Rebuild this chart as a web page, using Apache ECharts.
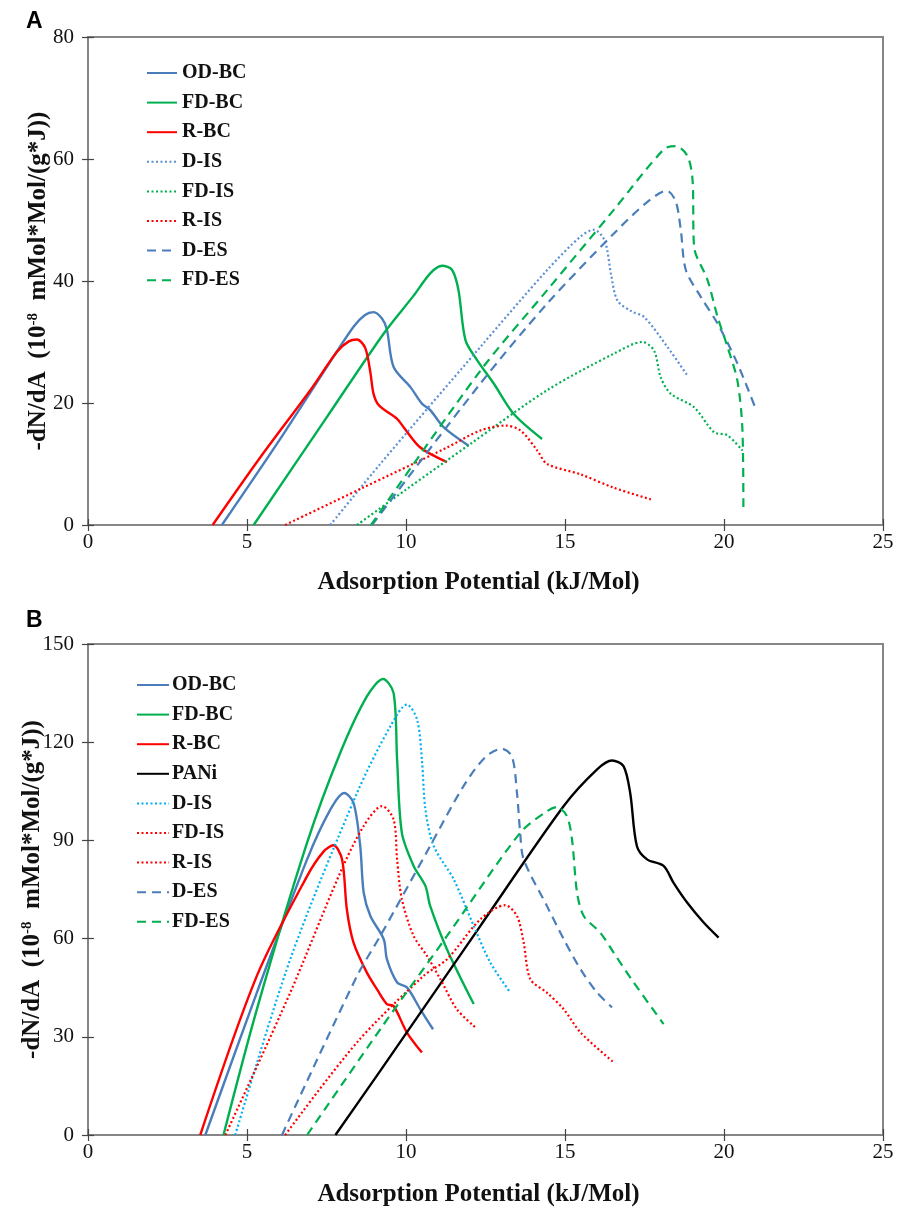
<!DOCTYPE html>
<html>
<head>
<meta charset="utf-8">
<script src="https://cdn.jsdelivr.net/npm/echarts@6/dist/echarts.min.js"></script>
<style>
html,body{margin:0;padding:0;background:#fff;}
#chart{width:897px;height:1208px;}
</style>
</head>
<body>
<div id="chart"></div>
<script>
// ---------- Data: panel A ----------
const xTicks = [0, 5, 10, 15, 20, 25];
const yTicksA = [0, 20, 40, 60, 80];
const yTicksB = [0, 30, 60, 90, 120, 150];

const A_OD_BC = [[4.21,0],[5.94,13.3],[7.51,25.9],[8.35,32.5],[8.7,34.4],[8.98,34.9],[9.25,33.8],[9.40,32.0],[9.61,25.9],[10.14,22.6],[10.5,19.9],[10.77,18.8],[11.19,16.0],[11.97,13.0]];
const A_FD_BC = [[5.21,0],[7.5,17.6],[9.30,31.4],[10.24,37.6],[10.77,41.3],[11.14,42.5],[11.45,41.8],[11.65,38.5],[11.87,30.3],[12.24,27.0],[12.76,23.2],[13.39,18.2],[14.28,14.1]];
const A_R_BC  = [[3.92,0],[5.42,11.1],[6.99,22.1],[7.83,28.4],[8.2,30.1],[8.46,30.4],[8.72,29.0],[8.88,25.0],[8.98,21.5],[9.15,19.6],[9.72,17.4],[9.93,16.0],[10.45,12.7],[11.29,10.3]];
const A_D_IS  = [[7.62,0],[9.19,10.0],[12.34,29.2],[14.44,41.8],[15.49,47.3],[15.91,48.4],[16.25,46.6],[16.45,41.0],[16.65,36.8],[17.1,35.0],[17.49,34.1],[18.22,29.2],[18.85,24.5]];
const A_FD_IS = [[8.46,0],[10.0,5.8],[12.0,13.2],[14.44,22.1],[16.54,28.1],[17.43,30.0],[17.80,28.6],[18.01,24.2],[18.33,21.5],[19.06,19.3],[19.69,15.2],[20.11,14.7],[20.58,12.2]];
const A_R_IS  = [[6.20,0],[8.56,5.9],[11.29,12.7],[12.34,15.5],[13.13,16.3],[13.6,15.5],[14.13,12.2],[14.44,10.0],[15.49,8.3],[16.54,6.1],[17.70,4.2]];
const A_D_ES  = [[8.93,0],[12.34,23.2],[14.44,36.3],[16.54,47.8],[17.6,53.0],[18.2,54.8],[18.48,53.1],[18.64,48.4],[18.80,41.8],[19.27,37.4],[19.80,33.0],[20.42,26.5],[21.0,19.0]];
const A_FD_ES = [[8.9,0],[12.34,25.3],[14.44,38.5],[16.54,51.7],[18.11,61.6],[18.48,62.1],[18.85,60.5],[19.01,56.6],[19.06,45.6],[19.48,40.2],[19.80,34.1],[20.11,29.2],[20.42,23.7],[20.58,15.5],[20.61,2.3]];

// ---------- Data: panel B ----------
const B_OD_BC = [[3.69,0],[5.31,43.5],[6.89,84.2],[7.62,99.4],[8.06,104.5],[8.35,101.5],[8.56,88.3],[8.67,74.0],[8.88,66.9],[9.30,59.8],[9.40,53.7],[9.72,46.6],[10.03,45.1],[10.45,38.4],[10.85,32.3]];
const B_FD_BC = [[4.26,0],[5.31,38.4],[6.89,89.3],[7.93,116.7],[8.77,134.0],[9.28,139.3],[9.61,135.0],[9.72,114.7],[9.87,92.3],[10.24,82.2],[10.61,76.1],[10.76,70.0],[11.29,56.7],[12.13,40.0]];
const B_R_BC  = [[3.53,0],[5.31,48.6],[6.89,79.1],[7.4,86.5],[7.72,88.5],[7.99,84.2],[8.14,68.9],[8.35,58.8],[8.77,49.6],[9.09,44.5],[9.40,40.0],[9.61,39.4],[10.03,31.3],[10.5,25.2]];
const B_PANi  = [[7.78,0],[9.19,19.6],[12.34,63.9],[14.96,100.5],[16.01,111.7],[16.48,114.4],[16.84,112.7],[17.05,104.5],[17.26,88.3],[17.58,84.2],[18.10,82.2],[18.41,77.1],[18.84,71.0],[19.36,64.9],[19.83,60.3]];
const B_D_IS  = [[4.63,0],[6.36,53.7],[8.46,104.5],[9.51,124.9],[10.03,131.5],[10.35,126.9],[10.50,114.7],[10.61,99.5],[10.87,88.3],[11.50,78.1],[12.13,63.9],[12.65,52.7],[13.28,43.5]];
const B_FD_IS = [[4.32,0],[6.36,43.5],[7.93,80.1],[8.67,94.4],[9.25,100.5],[9.61,96.4],[9.72,84.2],[9.87,72.0],[10.24,60.8],[10.66,54.7],[11.08,47.6],[11.60,38.4],[12.18,32.9]];
const B_R_IS  = [[6.20,0],[8.46,28.3],[10.55,48.6],[11.29,53.7],[12.34,65.9],[13.12,70.2],[13.49,66.9],[13.70,58.8],[13.91,47.6],[14.43,43.5],[14.96,38.4],[15.49,31.3],[16.53,22.2]];
const B_D_ES  = [[6.10,0],[8.46,48.6],[9.19,60.8],[10.76,88.3],[11.81,106.6],[12.5,115.5],[13.01,118.0],[13.33,115.7],[13.49,104.5],[13.59,92.3],[13.70,84.2],[14.43,70.0],[14.96,59.8],[15.49,50.6],[16.01,43.5],[16.48,39.0]];
const B_FD_ES = [[6.89,0],[9.19,32.3],[11.29,60.8],[13.59,92.3],[14.43,98.9],[14.75,100.2],[15.06,97.4],[15.22,90.3],[15.38,74.0],[15.59,66.9],[16.11,61.8],[16.53,55.7],[17.16,46.6],[18.10,33.9]];

const seriesNamesA = ['OD-BC','FD-BC','R-BC','D-IS','FD-IS','R-IS','D-ES','FD-ES'];
const seriesNamesB = ['OD-BC','FD-BC','R-BC','PANi','D-IS','FD-IS','R-IS','D-ES','FD-ES'];

const xTitle = 'Adsorption Potential (kJ/Mol)';
const yTitle = '-dN/dA  (10{sup|-8}  mMol*Mol/(g*J))';

// ---------- Styling ----------
const BLUE = '#4a7ebb', GREEN = '#00b050', RED = '#ff0000', CYAN = '#00b0f0', BLACK = '#000000';
const SERIF = '"Liberation Serif","Times New Roman",serif';
const AXISC = '#868686';
const SOLID = 'solid', DOT = [2, 2.5], DASH = [9, 6];

function mk(name, data, color, type, xi, yi, w) {
  return {
    name: name, type: 'line', data: data, xAxisIndex: xi, yAxisIndex: yi,
    symbol: 'none', smooth: 0.3, animation: false,
    lineStyle: { color: color, width: w || (type === SOLID ? 2.4 : 2.2), type: type },
    itemStyle: { color: color }
  };
}

const series = [
  mk('A:OD-BC', A_OD_BC, BLUE, SOLID, 0, 0),
  mk('A:FD-BC', A_FD_BC, GREEN, SOLID, 0, 0),
  mk('A:R-BC', A_R_BC, RED, SOLID, 0, 0),
  mk('A:D-IS', A_D_IS, '#5b8fd4', DOT, 0, 0),
  mk('A:FD-IS', A_FD_IS, GREEN, DOT, 0, 0),
  mk('A:R-IS', A_R_IS, RED, DOT, 0, 0),
  mk('A:D-ES', A_D_ES, BLUE, DASH, 0, 0),
  mk('A:FD-ES', A_FD_ES, GREEN, DASH, 0, 0),
  mk('B:OD-BC', B_OD_BC, BLUE, SOLID, 2, 2),
  mk('B:FD-BC', B_FD_BC, GREEN, SOLID, 2, 2),
  mk('B:R-BC', B_R_BC, RED, SOLID, 2, 2),
  mk('B:PANi', B_PANi, BLACK, SOLID, 2, 2),
  mk('B:D-IS', B_D_IS, CYAN, DOT, 2, 2),
  mk('B:FD-IS', B_FD_IS, RED, DOT, 2, 2),
  mk('B:R-IS', B_R_IS, RED, DOT, 2, 2),
  mk('B:D-ES', B_D_ES, BLUE, DASH, 2, 2),
  mk('B:FD-ES', B_FD_ES, GREEN, DASH, 2, 2)
];

function xAxisPair(gi) {
  const main = {
    type: 'value', gridIndex: gi, position: 'bottom', min: xTicks[0], max: xTicks[xTicks.length-1], interval: 5,
    axisLine: { show: true, onZero: false, lineStyle: { color: AXISC, width: 2 } },
    axisTick: { show: true, inside: false, length: 6, lineStyle: { color: '#444', width: 1.2 } },
    axisLabel: { show: true, margin: 7, fontFamily: SERIF, fontSize: 21, color: '#111' },
    splitLine: { show: false },
    name: xTitle, nameLocation: 'middle', nameGap: gi === 0 ? 45 : 47, nameMoveOverlap: false,
    nameTextStyle: { fontFamily: SERIF, fontWeight: 'bold', fontSize: 25, color: '#111', padding: [0, 14, 0, 0] }
  };
  const inner = {
    type: 'value', gridIndex: gi, position: 'bottom', min: xTicks[0], max: xTicks[xTicks.length-1], interval: 5,
    axisLine: { show: false, onZero: false },
    axisTick: { show: true, inside: true, length: 6, lineStyle: { color: '#444', width: 1.2 } },
    axisLabel: { show: false }, splitLine: { show: false }
  };
  return [main, inner];
}
function yAxisPair(gi, ticks, gap) {
  const mx = ticks[ticks.length-1], iv = ticks[1] - ticks[0];
  const main = {
    type: 'value', gridIndex: gi, position: 'left', min: ticks[0], max: mx, interval: iv,
    axisLine: { show: true, onZero: false, lineStyle: { color: AXISC, width: 2 } },
    axisTick: { show: true, inside: false, length: 6, lineStyle: { color: '#444', width: 1.2 } },
    axisLabel: { show: true, margin: 14, fontFamily: SERIF, fontSize: 21, color: '#111' },
    splitLine: { show: false },
    name: yTitle, nameLocation: 'middle', nameGap: gap, nameMoveOverlap: false,
    nameTextStyle: {
      fontFamily: SERIF, fontWeight: 'bold', fontSize: 25, color: '#111', lineHeight: 26,
      rich: { sup: { fontFamily: SERIF, fontWeight: 'bold', fontSize: 15, color: '#111', verticalAlign: 'top', lineHeight: 26, padding: [0,0,10,0] } }
    }
  };
  const inner = {
    type: 'value', gridIndex: gi, position: 'left', min: ticks[0], max: mx, interval: iv,
    axisLine: { show: false, onZero: false },
    axisTick: { show: true, inside: true, length: 6, lineStyle: { color: '#444', width: 1.2 } },
    axisLabel: { show: false }, splitLine: { show: false }
  };
  return [main, inner];
}

function legend(names, prefix, left, top, iw, tp) {
  return {
    orient: 'vertical', left: left, top: top, padding: 0, itemWidth: iw, itemHeight: 12, itemGap: 9.6,
    data: names.map(n => prefix + n),
    formatter: n => n.replace(/^[AB]:/, ''),
    selectedMode: false,
    itemStyle: { opacity: 0, color: 'rgba(0,0,0,0)', borderWidth: 0 },
    textStyle: { fontFamily: SERIF, fontWeight: 'bold', fontSize: 20, color: '#111', lineHeight: 20, padding: [0,0,0,tp] }
  };
}

const chart = echarts.init(document.getElementById('chart'), null, { renderer: 'canvas' });
chart.setOption({
  backgroundColor: '#fff',
  animation: false,
  grid: [
    { left: 88, top: 37, width: 795, height: 488, show: true, borderColor: AXISC, borderWidth: 2, backgroundColor: 'transparent' },
    { left: 88, top: 644, width: 795, height: 492, show: true, borderColor: AXISC, borderWidth: 2, backgroundColor: 'transparent' }
  ],
  xAxis: [].concat(xAxisPair(0), xAxisPair(1)),
  yAxis: [].concat(yAxisPair(0, yTicksA, 36), yAxisPair(1, yTicksB, 42)),
  legend: [legend(seriesNamesA, 'A:', 146, 63, 30, 0), legend(seriesNamesB, 'B:', 136, 675, 32, -2)],
  graphic: [
    { type: 'text', left: 26, top: 10, style: { text: 'A', font: 'bold 23px "Liberation Sans", Arial, sans-serif', fill: '#000' } },
    { type: 'text', left: 26, top: 609, style: { text: 'B', font: 'bold 23px "Liberation Sans", Arial, sans-serif', fill: '#000' } }
  ],
  series: series
});
</script>
</body>
</html>
